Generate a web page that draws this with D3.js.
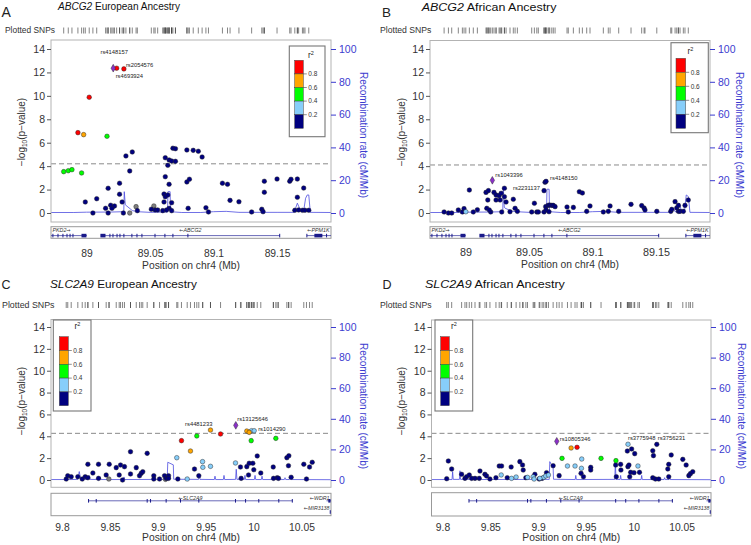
<!DOCTYPE html>
<html><head><meta charset="utf-8">
<script src="https://cdn.jsdelivr.net/npm/d3@7"></script>
<style>body{margin:0;background:#fff;} svg{display:block;}</style>
</head><body>
<svg id="c" width="751" height="545"></svg>
<script>
// ---------------- DATA ----------------
// Panel A : ABCG2 European
const posA = [89.0237, 89.0294, 89.0021, 88.9932, 88.9977, 89.0161, 88.982, 88.9856, 88.9885, 88.9961,
 88.999, 89.005, 89.008, 89.017, 89.015, 89.019, 89.017, 89.022, 89.020, 89.026, 89.026, 89.028, 89.029, 89.031, 89.036, 89.034, 89.040,
 89.034, 89.039, 89.053,
 89.051, 89.054, 89.056, 89.060, 89.061, 89.062, 89.061, 89.064, 89.062, 89.065, 89.062, 89.064, 89.065, 89.067, 89.070, 89.068, 89.070, 89.065, 89.063, 89.067, 89.067,
 89.079, 89.084, 89.088, 89.091, 89.079, 89.081, 89.080, 89.094, 89.096, 89.107, 89.111, 89.113, 89.120, 89.130, 89.138, 89.139, 89.140, 89.140, 89.150, 89.160, 89.161, 89.166, 89.171, 89.166, 89.164, 89.167, 89.170, 89.172, 89.175];
const logpA = [12.36, 12.3, 9.88, 6.86, 6.69, 6.55, 3.53, 3.61, 3.70, 3.42,
 0.94, 0.0, 1.22, 2.11, 0.40, 0.66, 0.0, 0.60, 0.40, 2.54, 1.60, 0.94, 0.0, 4.87, 5.21, 3.59, 0.20,
 0.0, 0.54, 0.6,
 0.32, 0.26, 0.26, 0.2, 1.62, 1.39, 0.94, 1.54, 3.10, 2.45, 4.72, 4.07, 4.53, 4.44, 4.41, 5.53, 5.49, 0.40, 0.26, 0.88, 0.2,
 5.38, 5.35, 5.27, 4.78, 2.65, 2.88, 0.40, 0.45, 0.09, 2.54, 2.45, 1.08, 0.96, 0.09, 0.32, 0.11, 2.71, 1.77, 2.90, 2.71, 2.88, 2.90, 2.13, 1.34, 0.23, 0.26, 0.23, 0.23, 0.23];
const r2A = [0.9, 0.9, 0.9, 0.9, 0.7, 0.5, 0.5, 0.5, 0.5, 0.5,
 0.1, 0.1, 0.1, 0.1, 0.1, 0.1, 0.1, 0.1, 0.1, 0.1, 0.1, 0.1, 0.1, 0.1, 0.1, 0.1, 0.1,
 null, null, null,
 0.1, 0.1, 0.1, 0.1, 0.1, 0.1, 0.1, 0.1, 0.1, 0.1, 0.1, 0.1, 0.1, 0.1, 0.1, 0.1, 0.1, 0.1, 0.1, 0.1, 0.1,
 0.1, 0.1, 0.1, 0.1, 0.1, 0.1, 0.1, 0.1, 0.1, 0.1, 0.1, 0.1, 0.1, 0.1, 0.1, 0.1, 0.1, 0.1, 0.1, 0.1, 0.1, 0.1, 0.1, 0.1, 0.1, 0.1, 0.1, 0.1, 0.1];
const recPosA = [88.972, 88.99, 89.0, 89.02, 89.0293, 89.0297, 89.0305, 89.036, 89.04, 89.05, 89.0638, 89.0641, 89.0658, 89.0661, 89.075, 89.09, 89.1, 89.11, 89.12, 89.15, 89.1635, 89.166, 89.1685, 89.171, 89.1725, 89.1738, 89.175, 89.1762, 89.1925];
const recRateA = [0.3, 0.3, 0.5, 0.6, 0.8, 13, 5, 1.5, 0.8, 0.4, 0.6, 13, 13, 0.8, 0.3, 0.3, 0.8, 1, 0.4, 0.4, 0.4, 6, 1.5, 1.5, 9, 11, 11, 0.4, 0.3];

// Panel B : ABCG2 African
const posB = [89.0002, 88.9831, 88.9865, 88.9891, 88.9943, 88.9975, 88.9988, 89.003, 89.0061, 89.0093, 89.0161, 89.018, 89.0175, 89.0198, 89.0167, 89.0187, 89.0224, 89.024, 89.024, 89.0272, 89.0264, 89.028, 89.0306, 89.0285, 89.0306, 89.0319, 89.035, 89.0376, 89.039, 89.0408, 89.0521, 89.0542, 89.0561, 89.0573, 89.0618, 89.0618, 89.0626, 89.0634, 89.0631, 89.0634, 89.065, 89.0663, 89.0679, 89.0691, 89.0705, 89.0657, 89.0799, 89.0809, 89.0849, 89.0896, 89.092, 89.0954, 89.098, 89.1085, 89.1124, 89.1138, 89.1206, 89.1303, 89.1387, 89.1406, 89.1413, 89.1506, 89.1616, 89.1624, 89.165, 89.1663, 89.1676, 89.1676, 89.1689, 89.1715, 89.1728, 89.1754];
const logpB = [0.11, 0.09, 0, 0, 0.26, 0.09, 0.37, 1.96, 0.09, 0.28, 1.76, 1.91, 1.11, 0.09, 0.40, 0.26, 1.76, 1.54, 1.11, 1.11, 1.48, 1.68, 2.11, 0.09, 1.39, 0.94, 0.11, 1.17, 0.40, 0.14, 0.09, 0.83, 0.09, 0.09, 0.09, 1.91, 2.62, 2.70, 0.54, 0.26, 0.65, 0.68, 0.65, 0.65, 0.54, 0.11, 0.51, 0.09, 0.48, 1.82, 1.71, 0.14, 0.60, 0.09, 0.14, 0.60, 0.14, 0.74, 0.63, 0.43, 0.26, 0.14, 0.14, 0.31, 0.97, 0.43, 0.14, 0.65, 0.14, 0.14, 0.65, 1.11];
const r2B = [0.3, 0.1, 0.1, 0.1, 0.1, 0.1, 0.1, 0.1, 0.1, 0.1, 0.1, 0.1, 0.1, 0.1, 0.1, 0.1, 0.1, 0.1, 0.1, 0.1, 0.1, 0.1, 0.1, 0.1, 0.1, 0.1, 0.1, 0.1, 0.1, 0.1, 0.1, 0.1, 0.1, 0.1, 0.1, 0.1, 0.1, 0.1, 0.1, 0.1, 0.1, 0.1, 0.1, 0.1, 0.1, 0.1, 0.1, 0.1, 0.1, 0.1, 0.1, 0.1, 0.1, 0.1, 0.1, 0.1, 0.1, 0.1, 0.1, 0.1, 0.1, 0.1, 0.1, 0.1, 0.1, 0.1, 0.1, 0.1, 0.1, 0.1, 0.1, 0.1];
const recPosB = [88.972, 88.99, 89.0, 89.02, 89.0293, 89.0297, 89.0305, 89.031, 89.036, 89.04, 89.05, 89.0638, 89.0641, 89.0658, 89.0661, 89.075, 89.09, 89.1, 89.11, 89.12, 89.15, 89.1625, 89.1635, 89.165, 89.1665, 89.1683, 89.17, 89.1725, 89.1738, 89.1755, 89.1767, 89.1925];
const recRateB = [0.3, 0.3, 0.5, 0.6, 0.8, 16, 3.5, 3, 1.2, 0.8, 0.4, 0.6, 14.5, 14.5, 0.8, 0.3, 0.3, 0.8, 1, 0.4, 0.4, 0.4, 3, 0.8, 0.8, 6, 1.5, 1.5, 11, 10, 0.4, 0.3];

// Panel C : SLC2A9 European
const posC = [9.9550, 9.9655, 9.9407, 9.9247, 9.9341, 9.9929, 9.9954, 9.9978, 10.0006, 9.9975, 10.0232, 9.9198, 9.9467, 9.9470, 9.9550, 9.9811, 9.9307, 9.8489, 9.9080,
 9.8044, 9.806, 9.8096, 9.8165, 9.8211, 9.8242, 9.827, 9.827, 9.8322, 9.8381, 9.8381, 9.8461, 9.8493, 9.8566, 9.8611, 9.8652, 9.8597, 9.8632, 9.8715, 9.8715, 9.8775, 9.8809, 9.8827, 9.8843, 9.8889, 9.8958, 9.8958, 9.9018, 9.907, 9.9088, 9.9112, 9.9112, 9.9209, 9.9383, 9.9428, 9.9863, 9.987, 9.9929, 9.9954, 9.9992, 10.0002, 9.9947, 10.0038, 10.0075, 10.0205, 10.0208, 10.0246, 10.026, 10.0347, 10.0368, 10.0364, 10.0392, 10.0552, 10.0524, 10.0584, 10.0612];
const logpC = [4.57, 4.21, 4.03, 3.60, 2.65, 4.48, 4.36, 4.51, 4.51, 3.60, 3.81, 2.04, 1.68, 1.16, 1.25, 1.56, 0.09, 0.09, 0.06,
 0.09, 0.39, 0.30, 0.30, 0.09, 0.30, 1.44, 0.21, 0.64, 1.44, 0.15, 0.46, 1.44, 1.13, 1.37, 1.22, 0.46, 0.0, 2.59, 0.55, 1.13, 0.39, 0.61, 0.76, 2.44, 0.39, 0.09, 0.09, 0.39, 0.15, 0.39, 0.15, 0.09, 1.0, 0.39, 1.19, 0.15, 1.22, 1.53, 1.53, 0.94, 0.46, 2.20, 0.64, 1.19, 0.15, 0.21, 0.15, 2.04, 2.22, 1.31, 0.25, 0.09, 1.44, 1.19, 1.62];
const r2C = [0.7, 0.9, 0.5, 0.9, 0.7, 0.7, 0.7, 0.3, 0.3, 0.5, 0.5, 0.3, 0.3, 0.3, 0.3, 0.3, 0.3, null, null,
 0.1, 0.1, 0.1, 0.1, 0.1, 0.1, 0.1, 0.1, 0.1, 0.1, 0.1, 0.1, 0.1, 0.1, 0.1, 0.1, 0.1, 0.1, 0.1, 0.1, 0.1, 0.1, 0.1, 0.1, 0.1, 0.1, 0.1, 0.1, 0.1, 0.1, 0.1, 0.1, 0.1, 0.1, 0.1, 0.1, 0.1, 0.1, 0.1, 0.1, 0.1, 0.1, 0.1, 0.1, 0.1, 0.1, 0.1, 0.1, 0.1, 0.1, 0.1, 0.1, 0.1, 0.1, 0.1, 0.1];
const recPosC = [9.7885, 9.81, 9.8165, 9.818, 9.8195, 9.827, 9.8282, 9.8294, 9.839, 9.8397, 9.8404, 9.864, 9.8647, 9.8654, 9.9098, 9.9104, 9.9162, 9.9166, 9.9425, 9.9433, 9.944, 9.959, 9.9597, 9.9604, 9.9684, 9.9691, 9.9698, 9.9812, 9.9819, 9.9826, 9.9903, 9.991, 9.9917, 10.0008, 10.0015, 10.0022, 10.0081, 10.0088, 10.0095, 10.0321, 10.0328, 10.0335, 10.0373, 10.038, 10.0387, 10.0808];
const recRateC = [0.3, 0.3, 0.4, 5.5, 0.4, 0.4, 3, 0.4, 0.3, 2, 0.3, 0.3, 2, 0.3, 0.4, 11.6, 9.9, 0.5, 0.4, 4, 0.4, 0.3, 2.5, 0.3, 0.3, 3, 0.3, 0.4, 7, 0.4, 0.3, 3, 0.3, 0.3, 3, 0.3, 0.3, 2.5, 0.3, 0.3, 1.5, 0.3, 0.3, 1.5, 0.3, 0.2];

// Panel D : SLC2A9 African
const posD = [9.9345, 9.9407, 9.925, 9.9658, 9.9814, 9.994, 9.9307, 9.9386, 9.9456, 9.9453, 10.0044, 9.8614, 9.8722, 9.877, 9.8889, 9.8948, 9.8958, 9.9059, 9.908, 9.9108, 9.9018,
 9.8044, 9.8061, 9.8096, 9.82, 9.8235, 9.8253, 9.828, 9.8305, 9.834, 9.8384, 9.8392, 9.8444, 9.8461, 9.8496, 9.8559, 9.8593, 9.8618, 9.8677, 9.8718, 9.8809, 9.8837, 9.8844, 9.8872, 9.8966, 9.9011, 9.9042, 9.9088, 9.9157, 9.922, 9.9449, 9.9474, 9.955, 9.955, 9.9811, 9.9818, 9.9863, 9.9866, 9.9933, 9.9939, 9.995, 9.9978, 10.001, 9.9968, 10.0003, 9.9958, 10.006, 10.0199, 10.0206, 10.0199, 10.0227, 10.0241, 10.0262, 10.0366, 10.0356, 10.0366, 10.0392, 10.0513, 10.0548, 10.0576, 10.0593, 10.0617];
const logpD = [2.93, 2.99, 1.98, 1.98, 1.77, 3.27, 1.28, 1.28, 1.92, 1.07, 1.28, 0.46, 0.15, 0.27, 0.24, 0.30, 0.09, 0.24, 0.37, 0.46, 0.15,
 0.12, 1.74, 1.01, 0.52, 0.15, 0.30, 0.46, 0.15, 0.15, 0.15, 0.82, 0.52, 0.37, 0.09, 0.21, 1.28, 1.28, 0.21, 1.19, 1.68, 1.37, 0.91, 0.21, 0.52, 0.09, 0.15, 0.67, 1.31, 0.40, 0.61, 0.30, 1.16, 0.91, 1.37, 0.30, 1.43, 0.91, 2.65, 1.22, 1.37, 2.84, 2.41, 0.70, 0.67, 0.30, 0.70, 2.68, 2.23, 0.21, 0.09, 3.26, 0.09, 1.43, 1.01, 0.30, 2.29, 1.89, 1.37, 0.40, 0.58, 0.76];
const r2D = [0.7, 0.9, 0.5, 0.5, 0.5, 0.3, 0.3, 0.3, 0.3, 0.3, 0.3, 0.3, 0.3, 0.3, 0.3, 0.3, 0.3, 0.3, 0.3, 0.3, 0.3,
 0.1, 0.1, 0.1, 0.1, 0.1, 0.1, 0.1, 0.1, 0.1, 0.1, 0.1, 0.1, 0.1, 0.1, 0.1, 0.1, 0.1, 0.1, 0.1, 0.1, 0.1, 0.1, 0.1, 0.1, 0.1, 0.1, 0.1, 0.1, 0.1, 0.1, 0.1, 0.1, 0.1, 0.1, 0.1, 0.1, 0.1, 0.1, 0.1, 0.1, 0.1, 0.1, 0.1, 0.1, 0.1, 0.1, 0.1, 0.1, 0.1, 0.1, 0.1, 0.1, 0.1, 0.1, 0.1, 0.1, 0.1, 0.1, 0.1, 0.1, 0.1];
const recPosD = [9.7885, 9.81, 9.8106, 9.8112, 9.8177, 9.8183, 9.8189, 9.8302, 9.8308, 9.8314, 9.9116, 9.9122, 9.9157, 9.9161, 9.9388, 9.9394, 9.94, 9.9802, 9.9808, 9.9814, 9.9857, 9.9863, 9.9869, 10.0077, 10.0083, 10.0089, 10.0317, 10.0323, 10.0329, 10.0369, 10.0375, 10.0381, 10.0808];
const recRateD = [0.3, 0.3, 5.5, 0.4, 0.4, 6, 0.4, 0.3, 2, 0.3, 0.4, 12, 8, 0.5, 0.3, 3, 0.3, 0.4, 12, 0.4, 0.3, 3, 0.3, 0.3, 3, 0.3, 0.3, 1.5, 0.3, 0.3, 1.5, 0.3, 0.2];

// index (lead) SNPs
const leadPos = [89.021, 89.0211, 9.9814, 9.9195];
const leadLogp = [12.36, 2.79, 5.0, 3.54];

// annotated SNPs
const labTextA = ["rs4148157", "rs2054576", "rs4693924"];
const labPosA = [89.021, 89.0294, 89.0237];
const labLogpA = [12.36, 12.3, 12.36];
const labTextB = ["rs1043396", "rs4148150", "rs2231137"];
const labPosB = [89.0211, 89.0634, 89.0618];
const labLogpB = [2.79, 2.70, 1.91];
const labTextC = ["rs4481233", "rs13125646", "rs1014290"];
const labPosC = [9.9407, 9.9814, 10.0006];
const labLogpC = [4.03, 5.0, 4.51];
const labTextD = ["rs10805346", "rs3775948", "rs3756231"];
const labPosD = [9.9195, 9.994, 10.0241];
const labLogpD = [3.54, 3.27, 3.26];

// genes
const geneNameAB = ["PKD2", "ABCG2", "PPM1K"];
const geneStartAB = [88.928, 89.0113, 89.1735];
const geneEndAB = [89.0003, 89.1523, 89.217];
const geneStrandAB = ["+", "-", "-"];
const geneExonsAB = [
  [[88.9735,88.9737],[88.9775,88.9777],[88.9814,88.9816],[88.9846,88.9848],[88.987,88.9872],[88.9893,88.9895],[88.9964,89.0003]],
  [[89.0113,89.0153],[89.0184,89.0186],[89.0208,89.021],[89.024,89.0242],[89.0263,89.0265],[89.0294,89.0296],[89.0357,89.0359],[89.0397,89.0399],[89.0436,89.0438],[89.0539,89.0541],[89.0617,89.0619],[89.068,89.0682],[89.0798,89.08],[89.1521,89.1523]],
  [[89.1735,89.1737],[89.1798,89.1861],[89.189,89.1892]]
];
const geneRowAB = [0, 0, 0];
const geneNameCD = ["SLC2A9", "WDR1", "MIR3138"];
const geneStartCD = [9.8277, 10.0761, 10.0800];
const geneEndCD = [10.0406, 10.1214, 10.0802];
const geneStrandCD = ["-", "-", "-"];
const geneExonsCD = [
  [[9.8277,9.8279],[9.8357,9.8359],[9.8889,9.8891],[9.8924,9.8926],[9.9087,9.9089],[9.9237,9.9239],[9.9428,9.943],[9.9811,9.9813],[9.9916,9.9918],[10.0054,10.0056],[10.0263,10.0265],[10.0404,10.0406]],
  [[10.0785,10.0808]],
  [[10.0800,10.0802]]
];
const geneRowCD = [0, 0, 1];

// ticks
const yTicks = [0, 2, 4, 6, 8, 10, 12, 14];
const recTicks = [0, 20, 40, 60, 80, 100];
const xTicksAB = [89, 89.05, 89.1, 89.15];
const xTickLabAB = ["89", "89.05", "89.1", "89.15"];
const xTicksCD = [9.8, 9.85, 9.9, 9.95, 10, 10.05];
const xTickLabCD = ["9.8", "9.85", "9.9", "9.95", "10", "10.05"];
const legendBreaks = [0.8, 0.6, 0.4, 0.2];
const legendLabels = ["0.8", "0.6", "0.4", "0.2"];
const legendColors = ["#FF0000", "#FFA500", "#00FF00", "#87CEFA", "#000080"];

// ---------------- DRAWING ----------------
const FONT = '"Liberation Sans", Arial, Helvetica, sans-serif';
const BLUE = "#3b3bcf";
const svg = d3.select("#c").attr("font-family", FONT);

function ldColor(r) {
  if (r === null) return "#7f7f7f";
  if (r >= 0.8) return "#FF0000";
  if (r >= 0.6) return "#FFA500";
  if (r >= 0.4) return "#00FF00";
  if (r >= 0.2) return "#87CEFA";
  return "#000080";
}

function stretchText(sel, targetW) {
  const node = sel.node();
  const w = node.getComputedTextLength();
  const x = +sel.attr("x"), y = +sel.attr("y");
  sel.attr("x", 0).attr("y", 0).attr("transform", `translate(${x},${y}) scale(${targetW / w},1)`);
}

function drawPanel(P, D) {
  const g = svg.append("g");
  const x = d3.scaleLinear().domain(P.dom).range([P.x0, P.x1]);
  const y = d3.scaleLinear().domain([0, 14]).range([P.yb, P.yt]);
  const yr = d3.scaleLinear().domain([0, 100]).range([P.yb, P.yt]);

  // letter + title
  g.append("text").attr("x", P.letterX).attr("y", P.letterY).attr("font-size", P.letterFs).attr("fill", "#222").text(P.letter);
  const t = g.append("text").attr("x", P.titleX).attr("y", P.titleY).attr("font-size", P.titleFs).attr("fill", "#111");
  t.append("tspan").attr("font-style", "italic").text(D.gene);
  t.append("tspan").text(" " + D.title);
  stretchText(t, P.titleW);

  // rug
  const rt = g.append("text").attr("x", P.rugTextX).attr("y", P.rugTextY).attr("font-size", P.rugFs).attr("fill", "#333").text("Plotted SNPs");
  stretchText(rt, P.rugTextW);
  const allPos = D.pos.concat([D.lead[0]]);
  g.append("g").selectAll("line").data(allPos).join("line")
    .attr("x1", d => x(d)).attr("x2", d => x(d))
    .attr("y1", P.rugY0).attr("y2", P.rugY1)
    .attr("stroke", "#333").attr("stroke-width", 0.6);

  // clip
  const cid = "clip" + P.letter;
  svg.append("clipPath").attr("id", cid).append("rect")
    .attr("x", P.x0).attr("y", P.top).attr("width", P.x1 - P.x0).attr("height", P.bottom - P.top);

  // recombination
  const recData = D.recPos.map((p, i) => [p, D.recRate[i]]);
  g.append("path").datum(recData).attr("clip-path", `url(#${cid})`)
    .attr("d", d3.line().x(d => x(d[0])).y(d => yr(d[1])))
    .attr("fill", "none").attr("stroke", "#4d4de0").attr("stroke-width", 0.8);

  // threshold
  g.append("line").attr("x1", P.x0).attr("x2", P.x1).attr("y1", y(P.thr)).attr("y2", y(P.thr))
    .attr("stroke", "#8a8a8a").attr("stroke-width", 1).attr("stroke-dasharray", "5,3");

  // points
  const pts = D.pos.map((p, i) => ({ p, v: D.logp[i], r: D.r2[i] }));
  const rank = r => (r === null ? 0.05 : r);
  pts.sort((a, b) => rank(a.r) - rank(b.r));
  g.append("g").selectAll("circle").data(pts).join("circle")
    .attr("cx", d => x(d.p)).attr("cy", d => y(d.v)).attr("r", 2.3)
    .attr("fill", d => ldColor(d.r)).attr("stroke", "#222").attr("stroke-width", 0.45);
  g.append("path").attr("d", d3.symbol(d3.symbolDiamond, 17)())
    .attr("transform", `translate(${x(D.lead[0])},${y(D.lead[1])})`)
    .attr("fill", "#8b2fc9").attr("stroke", "#333").attr("stroke-width", 0.5);

  // SNP labels
  D.labText.forEach((txt, i) => {
    const o = P.labOff[i];
    g.append("text").attr("x", x(D.labPos[i]) + o[0]).attr("y", y(D.labLogp[i]) + o[1])
      .attr("text-anchor", o[2]).attr("font-size", 5.8).attr("fill", "#222").text(txt);
  });

  // box
  g.append("rect").attr("x", P.x0).attr("y", P.top).attr("width", P.x1 - P.x0).attr("height", P.bottom - P.top)
    .attr("fill", "none").attr("stroke", "#b3b3b3").attr("stroke-width", 1);

  // legend
  const L = P.legend;
  const lg = g.append("g");
  lg.append("rect").attr("x", L.x).attr("y", L.y).attr("width", L.w).attr("height", L.h)
    .attr("fill", "#fff").attr("stroke", "#777").attr("stroke-width", 1.1);
  const lt = lg.append("text").attr("x", L.tx).attr("y", L.ty).attr("font-size", 8.3).attr("fill", "#222").attr("text-anchor", "middle");
  lt.append("tspan").text("r");
  lt.append("tspan").attr("font-size", 5.5).attr("dy", -3.3).text("2");
  const by = d3.scaleLinear().domain([1, 0]).range([L.by, L.by + L.bh]);
  const bands = [1, 0.8, 0.6, 0.4, 0.2, 0];
  lg.selectAll("rect.band").data(legendColors).join("rect").attr("class", "band")
    .attr("x", L.bx).attr("width", L.bw)
    .attr("y", (c, i) => by(bands[i])).attr("height", (c, i) => by(bands[i + 1]) - by(bands[i]))
    .attr("fill", c => c).attr("stroke", "#444").attr("stroke-width", 0.5);
  lg.selectAll("line.lt").data(legendBreaks).join("line").attr("class", "lt")
    .attr("x1", L.bx + L.bw).attr("x2", L.bx + L.bw + 3.5)
    .attr("y1", d => by(d)).attr("y2", d => by(d)).attr("stroke", "#444").attr("stroke-width", 0.6);
  lg.selectAll("text.ll").data(legendBreaks).join("text").attr("class", "ll")
    .attr("x", L.bx + L.bw + 5).attr("y", d => by(d)).attr("dy", "0.35em")
    .attr("font-size", 6.5).attr("fill", "#333").text((d, i) => legendLabels[i]);

  // left axis
  const la = g.append("g").attr("transform", `translate(${P.x0},0)`)
    .call(d3.axisLeft(y).tickValues(yTicks).tickSize(4).tickPadding(2));
  la.select(".domain").remove();
  la.attr("font-family", FONT);
  la.selectAll("line").attr("stroke", "#555");
  la.selectAll("text").attr("font-size", P.tickFs).attr("fill", "#333");
  const ltt = g.append("text").attr("transform", `translate(${P.ltX},${P.ltY}) rotate(-90)`)
    .attr("text-anchor", "middle").attr("dominant-baseline", "central").attr("font-size", 10).attr("fill", "#333");
  ltt.append("tspan").text("\u2212log");
  ltt.append("tspan").attr("font-size", 6.5).attr("dy", 2.5).text("10");
  ltt.append("tspan").attr("dy", -2.5).text("(p\u2212value)");

  // right axis
  const ra = g.append("g").attr("transform", `translate(${P.x1},0)`)
    .call(d3.axisRight(yr).tickValues(recTicks).tickSize(5).tickPadding(3));
  ra.select(".domain").remove();
  ra.attr("font-family", FONT);
  ra.selectAll("line").attr("stroke", BLUE);
  ra.selectAll("text").attr("font-size", P.tickFs).attr("fill", BLUE);
  g.append("text").attr("transform", `translate(${P.rtX},${P.rtY}) rotate(90)`)
    .attr("text-anchor", "middle").attr("dominant-baseline", "central").attr("font-size", 10).attr("fill", BLUE)
    .text("Recombination rate (cM/Mb)");

  // gene track
  const gcid = "gclip" + P.letter;
  svg.append("clipPath").attr("id", gcid).append("rect")
    .attr("x", P.x0).attr("y", P.gTop).attr("width", P.x1 - P.x0).attr("height", P.gBot - P.gTop);
  g.append("rect").attr("x", P.x0).attr("y", P.gTop).attr("width", P.x1 - P.x0).attr("height", P.gBot - P.gTop)
    .attr("fill", "none").attr("stroke", "#999").attr("stroke-width", 1);
  const gg = g.append("g").attr("clip-path", `url(#${gcid})`);
  D.geneName.forEach((nm, i) => {
    const row = P.gRows[D.geneRow[i]];
    gg.append("line").attr("x1", x(D.geneStart[i])).attr("x2", x(D.geneEnd[i]))
      .attr("y1", row.line).attr("y2", row.line).attr("stroke", "#2a2a9a").attr("stroke-width", 0.7);
    gg.selectAll(null).data(D.geneExons[i]).join("rect")
      .attr("x", e => x(e[0]) - 0.5).attr("width", e => Math.max(1, x(e[1]) - x(e[0])))
      .attr("y", row.line - 1.8).attr("height", 3.6).attr("fill", "#1a1a8a");
    const tt = g.append("text").attr("font-size", 5.3).attr("fill", "#333")
      .attr("y", row.label).attr("dy", "0.35em");
    if (D.geneStrand[i] === "+") {
      tt.append("tspan").attr("font-style", "italic").text(nm);
      tt.append("tspan").attr("font-family", "DejaVu Sans").attr("font-size", 5).text("\u2192");
    } else {
      tt.append("tspan").attr("font-family", "DejaVu Sans").attr("font-size", 5).text("\u2190");
      tt.append("tspan").attr("font-style", "italic").text(nm);
    }
    const w = tt.node().getComputedTextLength();
    let cx = x((D.geneStart[i] + D.geneEnd[i]) / 2);
    cx = Math.max(P.x0 + 1.5 + w / 2, Math.min(P.x1 - 1.5 - w / 2, cx));
    tt.attr("x", cx - w / 2);
  });

  // x axis labels
  const xa = g.append("g").attr("transform", `translate(0,${P.xTickY - 0.71 * P.xTickFs})`)
    .call(d3.axisBottom(x).tickValues(D.xTicks).tickFormat((d, i) => D.xTickLab[i]).tickSize(0).tickPadding(0));
  xa.select(".domain").remove();
  xa.attr("font-family", FONT);
  xa.selectAll("text").attr("font-size", P.xTickFs).attr("fill", "#333");
  g.append("text").attr("x", (P.x0 + P.x1) / 2).attr("y", P.xTitleY).attr("text-anchor", "middle")
    .attr("font-size", 10.3).attr("fill", "#333").text("Position on chr4 (Mb)");
}

const baseAB = { gene: "ABCG2", geneName: geneNameAB, geneStart: geneStartAB, geneEnd: geneEndAB, geneStrand: geneStrandAB, geneExons: geneExonsAB, geneRow: geneRowAB, xTicks: xTicksAB, xTickLab: xTickLabAB };
const baseCD = { gene: "SLC2A9", geneName: geneNameCD, geneStart: geneStartCD, geneEnd: geneEndCD, geneStrand: geneStrandCD, geneExons: geneExonsCD, geneRow: geneRowCD, xTicks: xTicksCD, xTickLab: xTickLabCD };

drawPanel(
  { letter: "A", letterX: 1.5, letterY: 17, letterFs: 14, titleX: 58, titleY: 10, titleFs: 10.2, titleW: 122,
    rugTextX: 5, rugTextY: 33, rugFs: 8.3, rugTextW: 50, rugY0: 27.5, rugY1: 33.5,
    x0: 51, x1: 331, top: 40, bottom: 222, yb: 213, yt: 49, dom: [88.972, 89.1925], thr: 4.2,
    labOff: [[1, -14, "middle"], [2, -2, "start"], [-1, 10, "start"]],
    legend: { x: 289.3, y: 46, w: 35.7, h: 90.7, tx: 311, ty: 58, bx: 294.7, by: 60.3, bw: 8.6, bh: 68 },
    gTop: 226.7, gBot: 238.3, gRows: [{ label: 230.5, line: 235.6 }],
    xTickY: 257, xTickFs: 10.3, xTitleY: 268.5, ltX: 21, ltY: 132, rtX: 363, rtY: 135, tickFs: 10.5 },
  Object.assign({}, baseAB, { title: "European Ancestry", pos: posA, logp: logpA, r2: r2A, recPos: recPosA, recRate: recRateA,
    lead: [leadPos[0], leadLogp[0]], labText: labTextA, labPos: labPosA, labLogp: labLogpA }));

drawPanel(
  { letter: "B", letterX: 382, letterY: 17, letterFs: 13.5, titleX: 421.7, titleY: 11, titleFs: 11.5, titleW: 135,
    rugTextX: 380, rugTextY: 33, rugFs: 8.3, rugTextW: 51.5, rugY0: 27.5, rugY1: 33.5,
    x0: 430, x1: 710, top: 40.5, bottom: 222, yb: 213, yt: 49, dom: [88.972, 89.1925], thr: 4.1,
    labOff: [[3, -3, "start"], [4, -1, "start"], [-4, -1, "end"]],
    legend: { x: 671, y: 42.7, w: 37.3, h: 90, tx: 690.5, ty: 54, bx: 676, by: 58.3, bw: 9.7, bh: 70 },
    gTop: 226.7, gBot: 238.3, gRows: [{ label: 230.5, line: 235.6 }],
    xTickY: 256, xTickFs: 10.8, xTitleY: 268, ltX: 401, ltY: 132, rtX: 739, rtY: 135, tickFs: 10.5 },
  Object.assign({}, baseAB, { title: "African Ancestry", pos: posB, logp: logpB, r2: r2B, recPos: recPosB, recRate: recRateB,
    lead: [leadPos[1], leadLogp[1]], labText: labTextB, labPos: labPosB, labLogp: labLogpB }));

drawPanel(
  { letter: "C", letterX: 1.5, letterY: 289.3, letterFs: 12.5, titleX: 50, titleY: 288.3, titleFs: 11.5, titleW: 147,
    rugTextX: 2, rugTextY: 308, rugFs: 8.7, rugTextW: 52.5, rugY0: 302, rugY1: 308,
    x0: 51, x1: 331, top: 319.5, bottom: 487.3, yb: 480, yt: 327, dom: [9.7885, 10.0808], thr: 4.27,
    labOff: [[2, -10, "middle"], [1.5, -4.5, "start"], [4, 0, "start"]],
    legend: { x: 53.3, y: 320, w: 37.7, h: 91, tx: 77.5, ty: 329, bx: 59.3, by: 336.7, bw: 9, bh: 69 },
    gTop: 493.3, gBot: 515.7, gRows: [{ label: 497.7, line: 500.8 }, { label: 508.3, line: 512 }],
    xTickY: 531, xTickFs: 10.3, xTitleY: 540.5, ltX: 21, ltY: 401, rtX: 363, rtY: 406, tickFs: 10.5 },
  Object.assign({}, baseCD, { title: "European Ancestry", pos: posC, logp: logpC, r2: r2C, recPos: recPosC, recRate: recRateC,
    lead: [leadPos[2], leadLogp[2]], labText: labTextC, labPos: labPosC, labLogp: labLogpC }));

drawPanel(
  { letter: "D", letterX: 382.5, letterY: 289.3, letterFs: 12.5, titleX: 425, titleY: 288.3, titleFs: 11.5, titleW: 140,
    rugTextX: 380, rugTextY: 308, rugFs: 8.7, rugTextW: 51.5, rugY0: 302, rugY1: 308,
    x0: 431.5, x1: 711, top: 320, bottom: 487.3, yb: 480, yt: 327, dom: [9.7885, 10.0808], thr: 4.27,
    labOff: [[3, 0, "start"], [0, -4, "start"], [1, -4, "start"]],
    legend: { x: 435, y: 320, w: 37.7, h: 91, tx: 454, ty: 329, bx: 440.7, by: 336.7, bw: 8.6, bh: 69 },
    gTop: 492.7, gBot: 516, gRows: [{ label: 497.7, line: 500.8 }, { label: 508.3, line: 512 }],
    xTickY: 531, xTickFs: 10.3, xTitleY: 540.5, ltX: 401, ltY: 401, rtX: 741, rtY: 406, tickFs: 10.5 },
  Object.assign({}, baseCD, { title: "African Ancestry", pos: posD, logp: logpD, r2: r2D, recPos: recPosD, recRate: recRateD,
    lead: [leadPos[3], leadLogp[3]], labText: labTextD, labPos: labPosD, labLogp: labLogpD }));
</script>
</body></html>
